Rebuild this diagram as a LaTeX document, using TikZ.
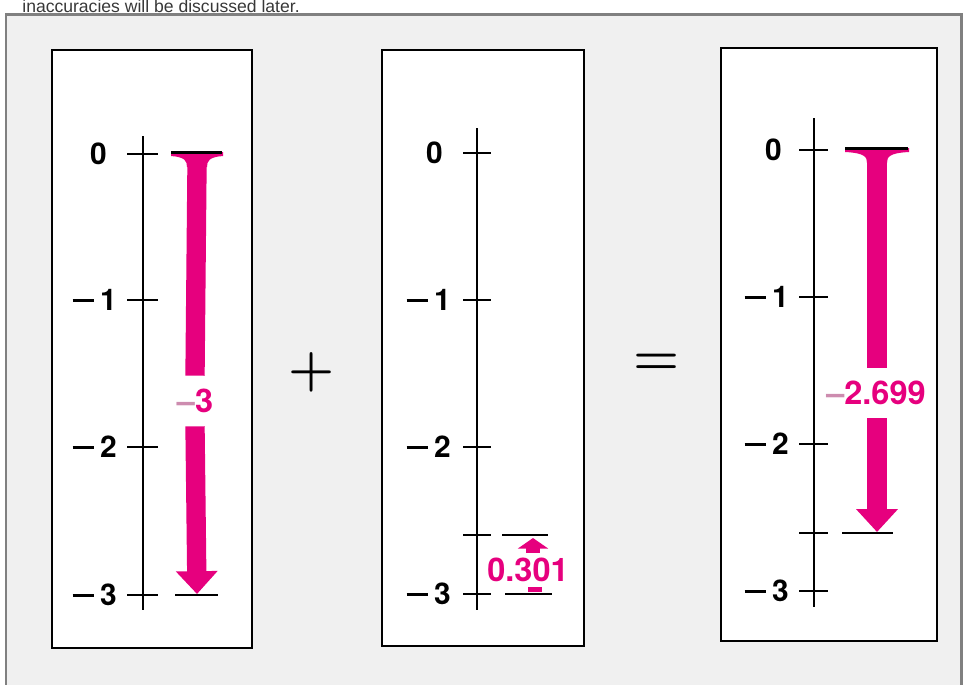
\documentclass[tikz,border=0pt]{standalone}
\usepackage{fontspec}
\setmainfont{TeX Gyre Heros}
\newfontfamily\textoarriba{Liberation Sans}
\newfontfamily\signofont{Latin Modern Roman}
\usetikzlibrary{arrows.meta}

\definecolor{rosa}{RGB}{230,0,126}
\definecolor{rosaclaro}{RGB}{205,140,175}
\definecolor{fondo}{RGB}{240,240,240}
\definecolor{marco}{RGB}{128,128,128}

\newcommand{\menos}{\rule[0.3em]{0.72em}{0.1em}\hspace{0.2em}}

\begin{document}
\begin{tikzpicture}[
    x=0.02cm, y=-0.02cm,
    caja/.style   = {draw=black, line width=1.6pt, fill=white},
    eje/.style    = {draw=black, line width=1.1pt},
    marca/.style  = {draw=black, line width=1.3pt},
    nivel/.style  = {draw=black, line width=1.2pt},
    etiq/.style   = {anchor=east, inner sep=0pt, font=\fontsize{17}{17}\selectfont\bfseries},
    valor/.style  = {inner sep=0pt, minimum height=1cm, text=rosa,
                     font=\fontsize{18.5}{18.5}\selectfont\bfseries},
    barra/.style  = {draw=rosa, line width=11pt},
    punta/.style  = {-{Triangle[width=23pt,length=13pt]}},
    signo/.style  = {inner sep=0pt, font=\signofont\fontsize{30}{30}\selectfont\bfseries},
]
\useasboundingbox (0,0) rectangle (966,684);

% --- Fondo y marco ---
\node[anchor=base west, inner sep=0pt, text=black!78, font=\textoarriba\fontsize{10}{10}\selectfont]
    (nota) at (22,12.5) {inaccuracies will be discussed later.};
\draw[draw=marco, line width=1.7pt, fill=fondo] (6,14.5) rectangle (961,720);

% --- Cajas ---
\draw[caja] (52,50) rectangle (252,648);
\draw[caja] (382,50) rectangle (584,646);
\draw[caja] (721,48) rectangle (937,641);

% --- Caja 1: 0 + (-3) ---
\draw[eje] (143,136) -- (143,610);
\draw[marca] (127,154) -- (158,154);
\draw[marca] (127,300) -- (158,300);
\draw[marca] (127,447) -- (158,447);
\draw[marca] (127,595) -- (158,595);
\node[etiq] (c1cero) at (107,154) {0};
\node[etiq] (c1uno)  at (117,300) {\menos1};
\node[etiq] (c1dos)  at (117,447) {\menos2};
\node[etiq] (c1tres) at (117,595) {\menos3};
\draw[nivel] (175,595) -- (218,595);
\fill[rosa] (171,152) -- (223,152) -- (223,156) .. controls (209,157) and (207,161) .. (207,167)
    -- (187,167) .. controls (187,161) and (185,157) .. (171,156) -- cycle;
\draw[nivel] (171,152.5) -- (222,152.5);
\coordinate (c1ini) at (197,166);
\coordinate (c1fin) at (197,594);
\node[valor] (c1val) at (195,401) {{\color{rosaclaro}–}3};
\draw[barra] (c1ini) -- (c1val.north);
\draw[barra, punta] (c1val.south) -- (c1fin);

% --- Signo + ---
\node[signo] (mas) at (312,372) {+};

% --- Caja 2: 0.301 ---
\draw[eje] (477,128) -- (477,610);
\draw[marca] (463,153) -- (491,153);
\draw[marca] (463,300) -- (491,300);
\draw[marca] (463,447) -- (491,447);
\draw[marca] (463,535) -- (491,535);
\draw[marca] (463,594) -- (491,594);
\node[etiq] (c2cero) at (443,153) {0};
\node[etiq] (c2uno)  at (451,300) {\menos1};
\node[etiq] (c2dos)  at (451,447) {\menos2};
\node[etiq] (c2tres) at (451,594) {\menos3};
\draw[nivel] (502,535) -- (548,535);
\draw[nivel] (505,594) -- (552,594);
\coordinate (c2ini) at (535,592);
\coordinate (c2fin) at (533,538);
\node[valor, minimum height=0.68cm] (c2val) at (528,570) {0.301};
\draw[rosa, line width=7.5pt] (c2ini) -- (c2val.south -| c2ini);
\draw[rosa, line width=7.5pt, -{Triangle[width=17pt,length=6pt]}] (c2val.north -| c2fin) -- (c2fin);

% --- Signo = ---
\node[signo] (igual) at (657,364) {=};

% --- Caja 3: -2.699 ---
\draw[eje] (814,118) -- (814,607);
\draw[marca] (799,150) -- (828,150);
\draw[marca] (799,297) -- (828,297);
\draw[marca] (799,444) -- (828,444);
\draw[marca] (799,533) -- (828,533);
\draw[marca] (799,591) -- (828,591);
\node[etiq] (c3cero) at (782,150) {0};
\node[etiq] (c3uno)  at (789,297) {\menos1};
\node[etiq] (c3dos)  at (789,444) {\menos2};
\node[etiq] (c3tres) at (789,591) {\menos3};
\draw[nivel] (842,533) -- (893,533);
\fill[rosa] (845,148) -- (909,148) -- (909,152) .. controls (889,153) and (887,157) .. (887,163)
    -- (867,163) .. controls (867,157) and (865,153) .. (845,152) -- cycle;
\draw[nivel] (845,148.5) -- (908,148.5);
\coordinate (c3ini) at (877,162);
\coordinate (c3fin) at (877,532);
\node[valor] (c3val) at (876,393) {{\color{rosaclaro}–}2.699};
\draw[barra] (c3ini) -- (c3val.north -| c3ini);
\draw[barra, punta] (c3val.south -| c3fin) -- (c3fin);

\end{tikzpicture}
\end{document}
